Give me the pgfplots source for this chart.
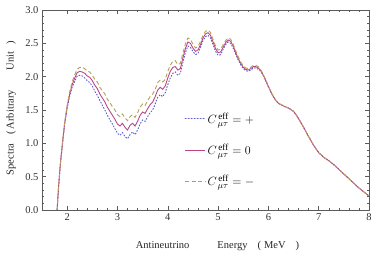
\documentclass[border=0pt]{standalone}
\usepackage{fontspec}
\setmainfont{Liberation Serif}
\usepackage{pgfplots}
\pgfplotsset{compat=1.18}
\definecolor{cplus}{RGB}{95,95,210}
\definecolor{czero}{RGB}{190,70,135}
\definecolor{cminus}{RGB}{180,160,85}
\definecolor{frame}{RGB}{90,90,90}
\pgfplotstableread{
x y
1.80 0.00
1.83 0.35
1.86 0.65
1.90 0.95
1.95 1.30
2.00 1.55
2.05 1.74
2.10 1.88
2.15 1.98
2.20 2.06
2.25 2.08
2.30 2.07
2.35 2.05
2.40 2.01
2.45 1.99
2.50 1.94
2.55 1.87
2.60 1.82
2.65 1.74
2.70 1.68
2.75 1.62
2.80 1.54
2.85 1.48
2.90 1.42
2.95 1.36
3.00 1.29
3.05 1.26
3.10 1.30
3.15 1.24
3.20 1.20
3.25 1.27
3.30 1.30
3.35 1.26
3.40 1.33
3.45 1.42
3.50 1.47
3.55 1.45
3.60 1.52
3.65 1.58
3.70 1.62
3.75 1.70
3.80 1.80
3.85 1.84
3.90 1.81
3.95 1.86
4.00 1.98
4.05 2.08
4.10 2.14
4.15 2.15
4.20 2.10
4.25 2.12
4.30 2.28
4.35 2.42
4.40 2.52
4.45 2.50
4.50 2.43
4.55 2.38
4.60 2.40
4.65 2.48
4.70 2.58
4.75 2.64
4.80 2.66
4.85 2.62
4.90 2.52
4.95 2.42
5.00 2.36
5.05 2.37
5.10 2.44
5.15 2.51
5.20 2.55
5.25 2.53
5.30 2.46
5.35 2.36
5.40 2.27
5.45 2.20
5.50 2.14
5.55 2.11
5.60 2.10
5.65 2.12
5.70 2.15
5.75 2.15
5.80 2.13
5.85 2.09
5.90 2.02
5.95 1.94
6.00 1.85
6.05 1.77
6.10 1.70
6.15 1.64
6.20 1.60
6.30 1.56
6.40 1.53
6.50 1.48
6.55 1.43
6.60 1.37
6.70 1.24
6.80 1.10
6.90 0.97
7.00 0.86
7.10 0.79
7.20 0.74
7.30 0.68
7.40 0.61
7.50 0.54
7.60 0.47
7.70 0.40
7.80 0.33
7.90 0.27
8.00 0.21
}\zerotab
\pgfplotstableread{
x y
1.80 0.00
1.83 0.35
1.86 0.65
1.90 0.94
1.95 1.29
2.00 1.53
2.05 1.71
2.10 1.84
2.15 1.93
2.20 2.01
2.25 2.02
2.30 2.01
2.35 1.98
2.40 1.94
2.45 1.91
2.50 1.86
2.55 1.78
2.60 1.72
2.65 1.64
2.70 1.57
2.75 1.50
2.80 1.42
2.85 1.35
2.90 1.29
2.95 1.22
3.00 1.15
3.05 1.12
3.10 1.16
3.15 1.10
3.20 1.07
3.25 1.13
3.30 1.17
3.35 1.13
3.40 1.20
3.45 1.29
3.50 1.35
3.55 1.33
3.60 1.40
3.65 1.46
3.70 1.50
3.75 1.59
3.80 1.69
3.85 1.73
3.90 1.70
3.95 1.76
4.00 1.88
4.05 1.98
4.10 2.05
4.15 2.07
4.20 2.02
4.25 2.05
4.30 2.21
4.35 2.36
4.40 2.46
4.45 2.44
4.50 2.38
4.55 2.33
4.60 2.35
4.65 2.44
4.70 2.54
4.75 2.60
4.80 2.62
4.85 2.58
4.90 2.48
4.95 2.38
5.00 2.32
5.05 2.33
5.10 2.41
5.15 2.48
5.20 2.52
5.25 2.50
5.30 2.43
5.35 2.34
5.40 2.25
5.45 2.18
5.50 2.12
5.55 2.09
5.60 2.08
5.65 2.10
5.70 2.13
5.75 2.13
5.80 2.11
5.85 2.08
5.90 2.01
5.95 1.93
6.00 1.85
6.05 1.77
6.10 1.70
6.15 1.64
6.20 1.60
6.30 1.56
6.40 1.53
6.50 1.48
6.55 1.43
6.60 1.37
6.70 1.24
6.80 1.10
6.90 0.97
7.00 0.86
7.10 0.79
7.20 0.74
7.30 0.68
7.40 0.61
7.50 0.54
7.60 0.47
7.70 0.40
7.80 0.33
7.90 0.27
8.00 0.21
}\plustab
\pgfplotstableread{
x y
1.80 0.00
1.83 0.35
1.86 0.65
1.90 0.96
1.95 1.31
2.00 1.57
2.05 1.77
2.10 1.92
2.15 2.03
2.20 2.11
2.25 2.14
2.30 2.14
2.35 2.12
2.40 2.08
2.45 2.07
2.50 2.02
2.55 1.96
2.60 1.92
2.65 1.84
2.70 1.79
2.75 1.74
2.80 1.66
2.85 1.61
2.90 1.55
2.95 1.50
3.00 1.43
3.05 1.40
3.10 1.44
3.15 1.38
3.20 1.34
3.25 1.40
3.30 1.43
3.35 1.39
3.40 1.46
3.45 1.54
3.50 1.59
3.55 1.57
3.60 1.64
3.65 1.70
3.70 1.74
3.75 1.81
3.80 1.91
3.85 1.95
3.90 1.92
3.95 1.96
4.00 2.08
4.05 2.17
4.10 2.23
4.15 2.24
4.20 2.18
4.25 2.20
4.30 2.35
4.35 2.49
4.40 2.58
4.45 2.56
4.50 2.49
4.55 2.43
4.60 2.45
4.65 2.53
4.70 2.62
4.75 2.68
4.80 2.70
4.85 2.66
4.90 2.56
4.95 2.46
5.00 2.40
5.05 2.41
5.10 2.48
5.15 2.54
5.20 2.58
5.25 2.56
5.30 2.49
5.35 2.39
5.40 2.30
5.45 2.22
5.50 2.16
5.55 2.13
5.60 2.12
5.65 2.14
5.70 2.17
5.75 2.17
5.80 2.15
5.85 2.10
5.90 2.03
5.95 1.95
6.00 1.86
6.05 1.77
6.10 1.70
6.15 1.64
6.20 1.60
6.30 1.56
6.40 1.53
6.50 1.48
6.55 1.43
6.60 1.37
6.70 1.24
6.80 1.10
6.90 0.97
7.00 0.86
7.10 0.79
7.20 0.74
7.30 0.68
7.40 0.61
7.50 0.54
7.60 0.47
7.70 0.40
7.80 0.33
7.90 0.27
8.00 0.21
}\minustab
\begin{document}
\begin{tikzpicture}
\useasboundingbox (-42pt,-43pt) rectangle (332pt,210pt);
\begin{axis}[
  at={(0,0)}, anchor=origin,
  scale only axis, width=327pt, height=200pt,
  xmin=1.5, xmax=8, ymin=0, ymax=3,
  xtick={2,3,4,5,6,7,8}, ytick={0,0.5,1,1.5,2,2.5,3},
  minor x tick num=4, minor y tick num=4,
  tick align=inside, major tick length=4pt, minor tick length=2pt,
  axis line style={frame, line width=0.4pt},
  tick style={frame, line width=0.4pt},
  ticklabel style={font=\fontsize{10.5}{12}\selectfont, text=black!80},
  /pgf/number format/assume math mode=true,
  yticklabel style={/pgf/number format/fixed, /pgf/number format/fixed zerofill, /pgf/number format/precision=1},
  xlabel={Antineutrino\hspace{28pt}Energy\hspace{10pt}(\hspace{3pt}MeV\hspace{10pt})},
  ylabel={Spectra\hspace{9pt}(\hspace{2pt}Arbitrary\hspace{20pt}Unit\hspace{7pt})},
  label style={font=\fontsize{10.5}{12}\selectfont, text=black!85},
  xlabel style={at={(axis description cs:0.5,0)}, anchor=base, yshift=-39pt, xshift=12pt},
  ylabel style={at={(axis description cs:0,0.5)}, anchor=center, yshift=31pt, xshift=2pt},
  legend style={draw=none, fill=none, at={(axis cs:4.33,0.9)}, anchor=west,
    font=\fontsize{13}{15}\selectfont, row sep=15pt, inner sep=0pt},
  legend cell align=left,
  legend image code/.code={\draw[#1] plot coordinates {(0pt,0pt) (20pt,0pt)};},
  clip=true,
]
\addplot[cplus, line width=1pt, dash pattern=on 1pt off 2pt, line cap=round] table[x=x,y=y] {\plustab};
\addlegendentry{$C^{\,\mathrm{eff}}_{\,\mu\tau} = +$}
\addplot[czero, line width=0.9pt] table[x=x,y=y] {\zerotab};
\addlegendentry{$C^{\,\mathrm{eff}}_{\,\mu\tau} = 0$}
\addplot[cminus, line width=0.9pt, dash pattern=on 4pt off 2.5pt] table[x=x,y=y] {\minustab};
\addlegendentry{$C^{\,\mathrm{eff}}_{\,\mu\tau} = -$}
\end{axis}
\end{tikzpicture}
\end{document}
